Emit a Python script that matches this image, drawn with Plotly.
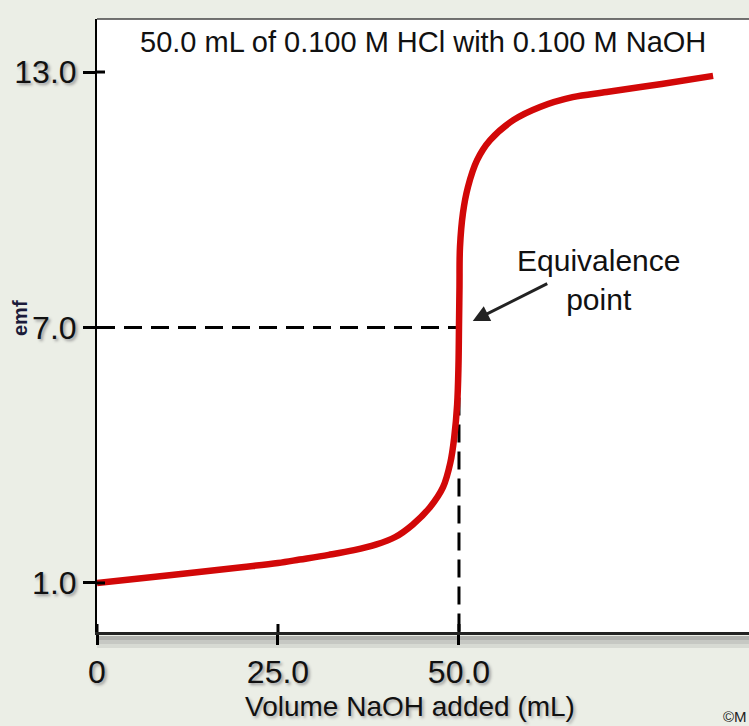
import plotly.graph_objects as go

# ---- data ----
volume_ml = [0, 10, 20, 25, 28.0, 32.0, 35.5, 38.5, 41.2, 43.6, 46.0, 47.8, 48.8, 49.35,
             49.75, 49.93, 50.0, 50.07, 50.14, 50.55, 51.24, 52.5, 54.3, 57.5, 61.2, 65.7,
             70.4, 78.0, 85.1]
emf_ph = [1.0, 1.18, 1.37, 1.47, 1.55, 1.66, 1.77, 1.90, 2.08, 2.37, 2.78, 3.25, 3.82, 4.43,
          5.2, 6.1, 7.0, 7.95, 8.89, 9.69, 10.30, 10.93, 11.40, 11.87, 12.18, 12.41,
          12.53, 12.72, 12.91]

x_tick_vals = [0, 25, 50]
x_tick_text = ["0", "25.0", "50.0"]
y_tick_vals = [1, 7, 13]
y_tick_text = ["1.0", "7.0", "13.0"]

equiv_volume = 50.0
equiv_ph = 7.0

title_text = "50.0 mL of 0.100 M HCl with 0.100 M NaOH"
x_title = "Volume NaOH added (mL)"
y_title = "emf"
equiv_label = "Equivalence<br>point"

FONT = "Liberation Sans, Arial, Helvetica, sans-serif"
BG = "#ebeee6"
X_RANGE = [0, 90.06]
Y_RANGE = [-0.151, 14.245]
PW, PH = 652, 613

fig = go.Figure()

# dashed guide lines to equivalence point
fig.add_trace(go.Scatter(
    x=[X_RANGE[0], equiv_volume, equiv_volume],
    y=[equiv_ph, equiv_ph, Y_RANGE[0]],
    mode="lines", line=dict(color="black", width=3, dash="18px,9px"),
    hoverinfo="skip", showlegend=False, cliponaxis=False))

# titration curve
fig.add_trace(go.Scatter(
    x=volume_ml, y=emf_ph, mode="lines",
    line=dict(color="#d20808", width=6.5, shape="spline", smoothing=1.0),
    showlegend=False))

shapes = []
# top border
shapes.append(dict(type="line", xref="paper", yref="paper", x0=0, x1=1, y0=1, y1=1,
                   line=dict(color="#444", width=1.5)))
# shadow under bottom axis
for i, op in enumerate([0.55, 0.35, 0.18]):
    shapes.append(dict(type="rect", xref="paper", yref="paper", x0=0, x1=1,
                       y0=-(4 + 4 * (i + 1)) / PH, y1=-(4 + 4 * i) / PH,
                       line=dict(width=0), fillcolor="#808080", opacity=op, layer="below"))
# inner parts of the tick marks (crossing the axes)
for v in x_tick_vals:
    shapes.append(dict(type="line", xref="x", yref="paper", x0=v, x1=v, y0=0, y1=8 / PH,
                       line=dict(color="black", width=3)))
for v in y_tick_vals:
    shapes.append(dict(type="line", xref="paper", yref="y", x0=0, x1=8 / PW, y0=v, y1=v,
                       line=dict(color="black", width=3)))

annotations = [
    dict(text=title_text, xref="paper", yref="paper", x=(423 - 97) / PW, y=(632 - 42) / PH,
         xanchor="center", yanchor="middle", showarrow=False,
         font=dict(family=FONT, size=29, color="#111")),
    dict(text=x_title, xref="paper", yref="paper", x=(410 - 97) / PW, y=(632 - 706) / PH,
         xanchor="center", yanchor="middle", showarrow=False,
         font=dict(family=FONT, size=28, color="#111", shadow="2px 2px 3px #aaa")),
    dict(text="<b>" + y_title + "</b>", xref="paper", yref="paper",
         x=(20 - 97) / PW, y=(632 - 318) / PH, xanchor="center", yanchor="middle",
         textangle=-90, showarrow=False,
         font=dict(family=FONT, size=20, color="#1b1b3a")),
    dict(text=equiv_label, xref="x", yref="y", x=69.3, y=8.12,
         xanchor="center", yanchor="middle", showarrow=False,
         font=dict(family=FONT, size=30, color="#111")),
    dict(text="", x=51.9, y=7.15, ax=62.4, ay=8.05, xref="x", yref="y",
         axref="x", ayref="y", showarrow=True, arrowhead=2, arrowsize=1.1,
         arrowwidth=3, arrowcolor="#222"),
    dict(text="©M", xref="paper", yref="paper", x=(721 - 97) / PW, y=(632 - 716) / PH,
         xanchor="left", yanchor="middle", showarrow=False,
         font=dict(family=FONT, size=15, color="#222")),
]

fig.update_layout(
    width=749, height=726,
    margin=dict(l=97, r=0, t=19, b=94),
    paper_bgcolor=BG, plot_bgcolor="white",
    shapes=shapes, annotations=annotations,
    xaxis=dict(range=X_RANGE, tickvals=x_tick_vals, ticktext=x_tick_text,
               showgrid=False, zeroline=False, showline=True, linecolor="#222",
               linewidth=3, ticks="outside", ticklen=10, tickwidth=3, tickcolor="black",
               tickfont=dict(family=FONT, size=32, color="#111", shadow="2px 2px 3px #999")),
    yaxis=dict(range=Y_RANGE, tickvals=y_tick_vals, ticktext=y_tick_text,
               showgrid=False, zeroline=False, showline=True, linecolor="black",
               linewidth=2, ticks="outside", ticklen=12, tickwidth=3, tickcolor="black",
               tickfont=dict(family=FONT, size=32, color="#111", shadow="2px 2px 3px #999")),
)

fig.write_html("out.html", config={"displayModeBar": False},
               post_script="document.body.style.margin='0';document.body.style.overflow='hidden';")
